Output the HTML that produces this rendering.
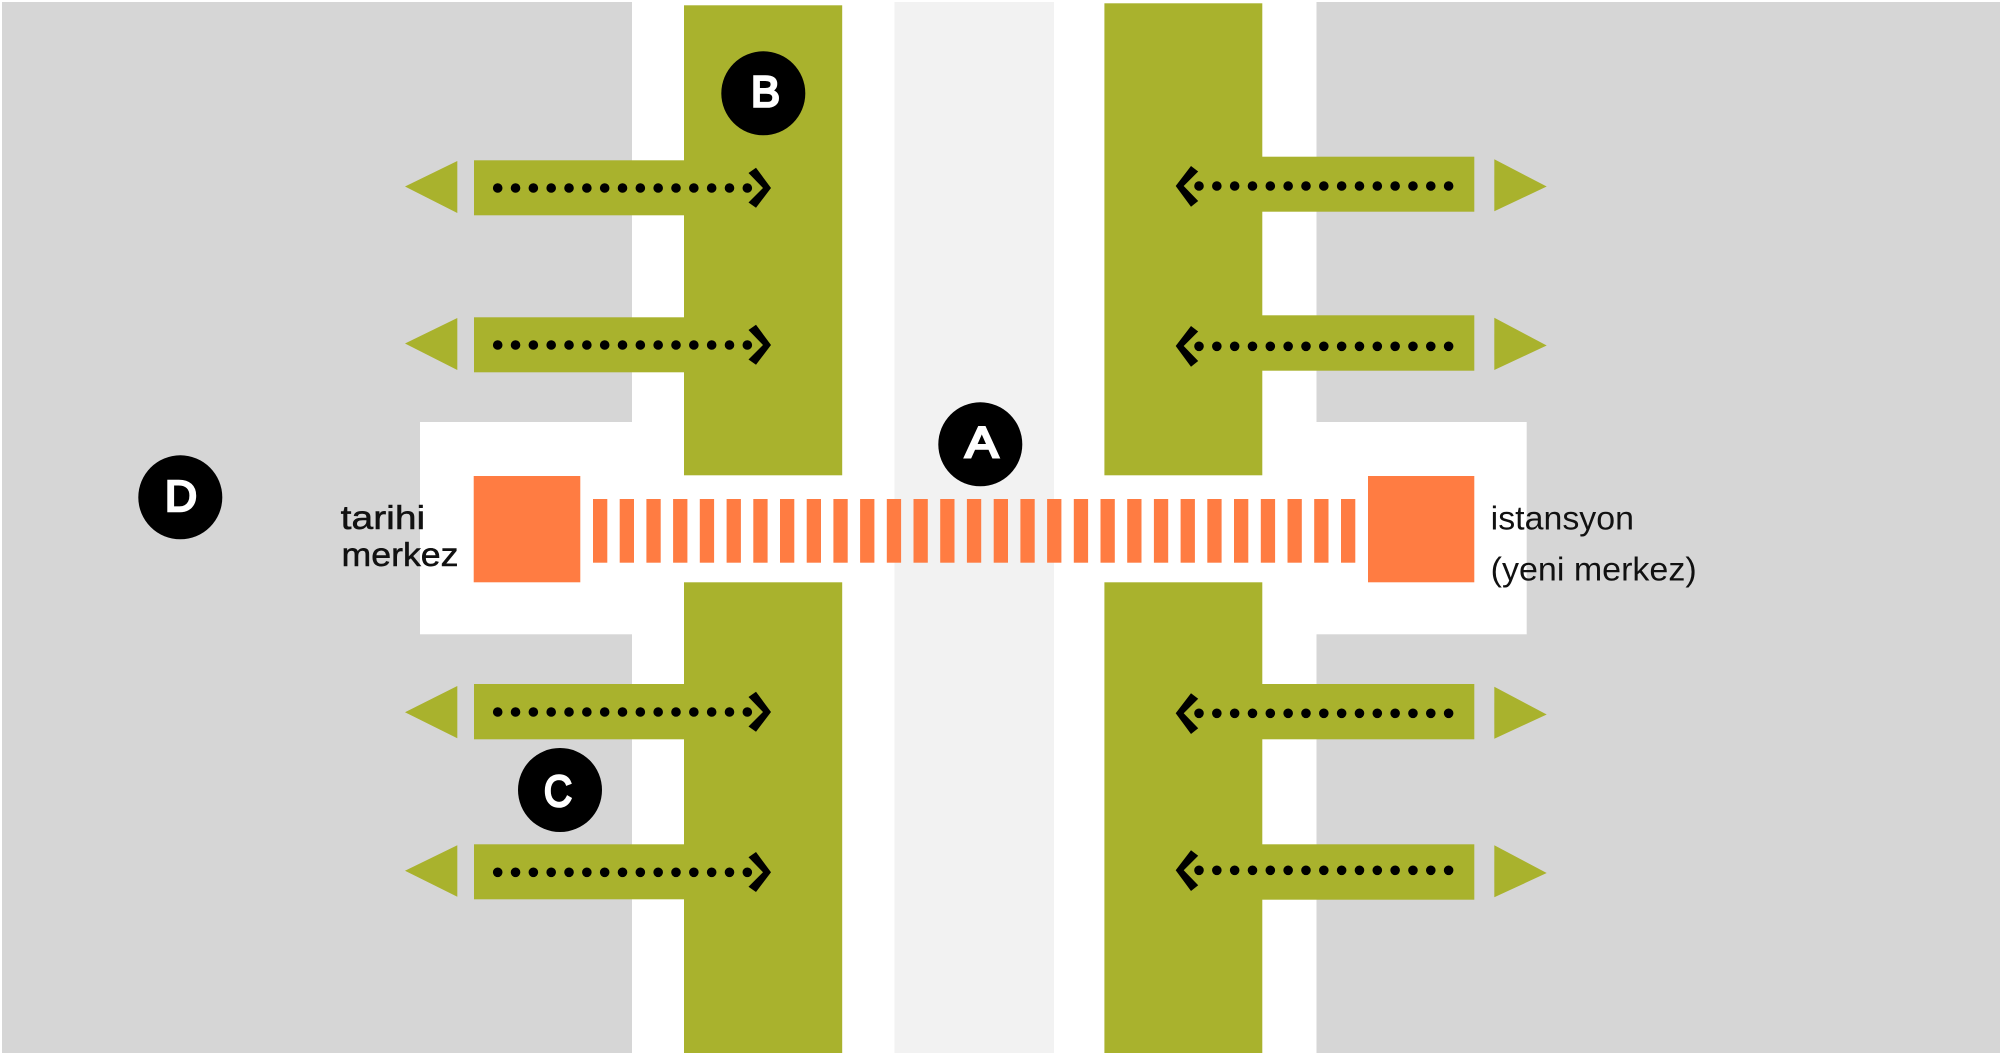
<!DOCTYPE html>
<html lang="tr">
<head>
<meta charset="utf-8">
<title>Diagram</title>
<style>
html,body{margin:0;padding:0;background:#fff;width:2000px;height:1053px;overflow:hidden}
svg{display:block}
text{font-family:"Liberation Sans",sans-serif}
.lbl{font-size:44px;font-weight:400;fill:#fff;stroke:#fff;stroke-width:2.6}
.t{font-size:33px;fill:#111}
.dots{stroke:#000;stroke-width:9.6;stroke-linecap:round;stroke-dasharray:0 17.83;fill:none}
</style>
</head>
<body>
<svg xmlns="http://www.w3.org/2000/svg" width="2000" height="1053" viewBox="0 0 2000 1053">
<rect width="2000" height="1053" fill="#fff"/>
<!-- gray blocks -->
<rect x="2" y="2" width="630" height="1051" fill="#d6d6d6"/>
<rect x="1316.5" y="2" width="683.5" height="1051" fill="#d6d6d6"/>
<!-- central strip -->
<rect x="894.5" y="2" width="159.5" height="1051" fill="#f2f2f2"/>
<!-- white cutouts -->
<rect x="420" y="422" width="212" height="212.3" fill="#fff"/>
<rect x="1316.5" y="422" width="210.2" height="212.3" fill="#fff"/>
<!-- green columns -->
<g fill="#a9b22d">
<rect x="684" y="5.3" width="158.2" height="470"/>
<rect x="684" y="582.3" width="158.2" height="470.7"/>
<rect x="1104.4" y="3.3" width="157.9" height="472"/>
<rect x="1104.4" y="582.3" width="157.9" height="470.7"/>
<!-- left arms -->
<rect x="474" y="160.3" width="210" height="55"/>
<rect x="474" y="317.3" width="210" height="55"/>
<rect x="474" y="684" width="210" height="55.3"/>
<rect x="474" y="844.3" width="210" height="55"/>
<!-- right arms -->
<rect x="1262" y="156.7" width="212.3" height="55"/>
<rect x="1262" y="315.3" width="212.3" height="55.4"/>
<rect x="1262" y="684" width="212.3" height="55.3"/>
<rect x="1262" y="844.3" width="212.3" height="55.4"/>
<!-- left triangles -->
<polygon points="457.3,161 405,186.5 457.3,213"/>
<polygon points="457.3,318 405,343.5 457.3,370"/>
<polygon points="457.3,686 405,712.3 457.3,738.3"/>
<polygon points="457.3,845.3 405,870.8 457.3,896.7"/>
<!-- right triangles -->
<polygon points="1494.3,159.3 1546.7,186.5 1494.3,211.3"/>
<polygon points="1494.3,317.7 1546.7,345.5 1494.3,370"/>
<polygon points="1494.3,686.7 1546.7,714.5 1494.3,738.7"/>
<polygon points="1494.3,845.3 1546.7,873 1494.3,897.3"/>
</g>
<!-- orange squares -->
<g fill="#ff7c42">
<rect x="473.7" y="476" width="106.6" height="106.3"/>
<rect x="1368" y="476" width="106.3" height="106.3"/>
</g>
<!-- crossing bars -->
<g fill="#ff7c42">
<rect x="593" y="499" width="14.3" height="63.7"/>
<rect x="619.7" y="499" width="14.3" height="63.7"/>
<rect x="646.4" y="499" width="14.3" height="63.7"/>
<rect x="673.1" y="499" width="14.3" height="63.7"/>
<rect x="699.8" y="499" width="14.3" height="63.7"/>
<rect x="726.6" y="499" width="14.3" height="63.7"/>
<rect x="753.3" y="499" width="14.3" height="63.7"/>
<rect x="780" y="499" width="14.3" height="63.7"/>
<rect x="806.7" y="499" width="14.3" height="63.7"/>
<rect x="833.4" y="499" width="14.3" height="63.7"/>
<rect x="860.1" y="499" width="14.3" height="63.7"/>
<rect x="886.8" y="499" width="14.3" height="63.7"/>
<rect x="913.5" y="499" width="14.3" height="63.7"/>
<rect x="940.2" y="499" width="14.3" height="63.7"/>
<rect x="966.9" y="499" width="14.3" height="63.7"/>
<rect x="993.7" y="499" width="14.3" height="63.7"/>
<rect x="1020.4" y="499" width="14.3" height="63.7"/>
<rect x="1047.1" y="499" width="14.3" height="63.7"/>
<rect x="1073.8" y="499" width="14.3" height="63.7"/>
<rect x="1100.5" y="499" width="14.3" height="63.7"/>
<rect x="1127.2" y="499" width="14.3" height="63.7"/>
<rect x="1153.9" y="499" width="14.3" height="63.7"/>
<rect x="1180.6" y="499" width="14.3" height="63.7"/>
<rect x="1207.3" y="499" width="14.3" height="63.7"/>
<rect x="1234" y="499" width="14.3" height="63.7"/>
<rect x="1260.8" y="499" width="14.3" height="63.7"/>
<rect x="1287.5" y="499" width="14.3" height="63.7"/>
<rect x="1314.2" y="499" width="14.3" height="63.7"/>
<rect x="1341" y="499" width="14.3" height="63.7"/>
</g>
<!-- dotted connectors -->
<path class="dots" d="M497.7 188H748"/>
<path class="dots" d="M497.7 345H748"/>
<path class="dots" d="M497.7 712H748"/>
<path class="dots" d="M497.7 872.3H748"/>
<path class="dots" d="M1199 186H1449"/>
<path class="dots" d="M1199 346.3H1449"/>
<path class="dots" d="M1199 713.3H1449"/>
<path class="dots" d="M1199 870.3H1449"/>
<!-- chevrons, right-pointing -->
<g fill="#000">
<polygon transform="translate(771,188)" points="-15,-20.3 0,0 -15,19.7 -22.5,14.5 -8,0 -22.5,-15"/>
<polygon transform="translate(771,345)" points="-15,-20.3 0,0 -15,19.7 -22.5,14.5 -8,0 -22.5,-15"/>
<polygon transform="translate(771,712)" points="-15,-20.3 0,0 -15,19.7 -22.5,14.5 -8,0 -22.5,-15"/>
<polygon transform="translate(771,872.3)" points="-15,-20.3 0,0 -15,19.7 -22.5,14.5 -8,0 -22.5,-15"/>
<!-- chevrons, left-pointing -->
<polygon transform="translate(1175.7,186)" points="15.3,-20 22.5,-14.5 8,0 22.5,15 15.3,20.7 0,0"/>
<polygon transform="translate(1175.7,346)" points="15.3,-20 22.5,-14.5 8,0 22.5,15 15.3,20.7 0,0"/>
<polygon transform="translate(1175.7,713.3)" points="15.3,-20 22.5,-14.5 8,0 22.5,15 15.3,20.7 0,0"/>
<polygon transform="translate(1175.7,870.3)" points="15.3,-20 22.5,-14.5 8,0 22.5,15 15.3,20.7 0,0"/>
<!-- badges -->
<circle cx="980.3" cy="444.3" r="42"/>
<circle cx="763.3" cy="93.3" r="42"/>
<circle cx="560" cy="790" r="42"/>
<circle cx="180.3" cy="497.3" r="42"/>
</g>
<text class="lbl" x="965.3" y="457.7" textLength="33" lengthAdjust="spacingAndGlyphs">A</text>
<text class="lbl" x="751" y="106.7" textLength="29" lengthAdjust="spacingAndGlyphs">B</text>
<text class="lbl" x="544" y="806" textLength="28" lengthAdjust="spacingAndGlyphs">C</text>
<text class="lbl" x="165" y="511" textLength="32" lengthAdjust="spacingAndGlyphs">D</text>
<!-- labels -->
<text class="t" x="340.7" y="529" textLength="84.5" lengthAdjust="spacingAndGlyphs" stroke="#111" stroke-width=".5">tarihi</text>
<text class="t" x="341.5" y="566" textLength="117" lengthAdjust="spacingAndGlyphs" stroke="#111" stroke-width=".5">merkez</text>
<text class="t" x="1490.7" y="529.3" textLength="143.3" lengthAdjust="spacingAndGlyphs">istansyon</text>
<text class="t" x="1490.7" y="580.7" textLength="206" lengthAdjust="spacingAndGlyphs">(yeni merkez)</text>
</svg>
</body>
</html>
